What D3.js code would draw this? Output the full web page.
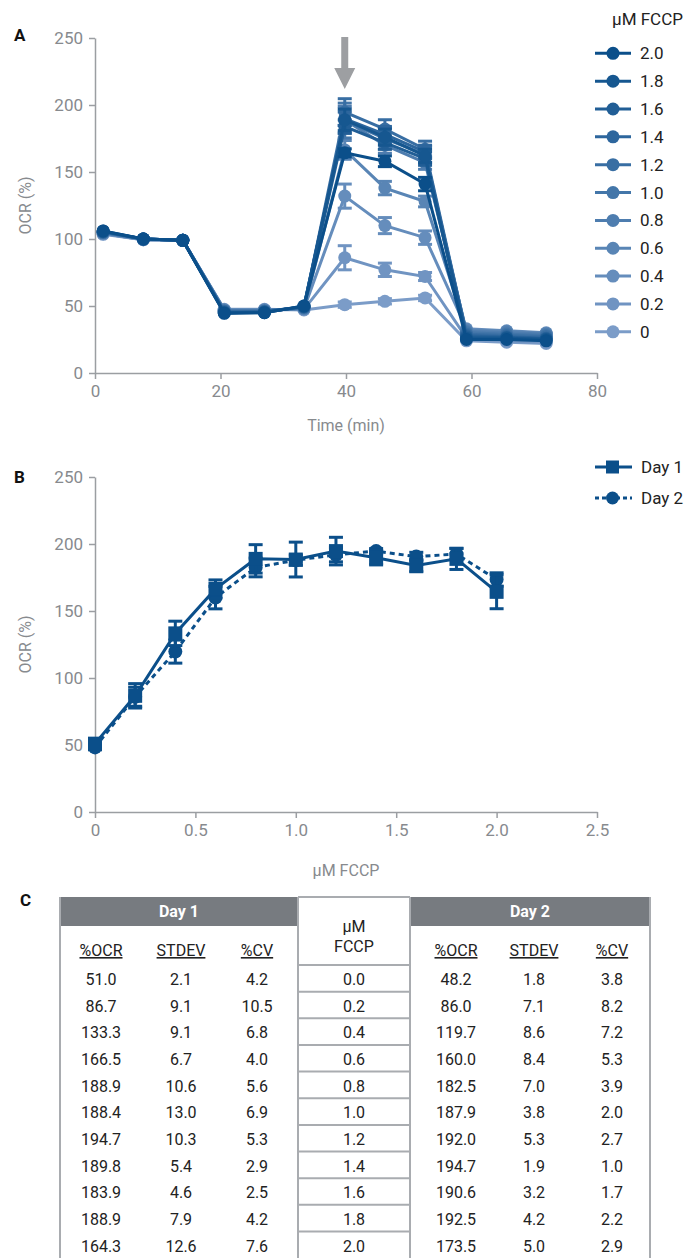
<!DOCTYPE html>
<html><head><meta charset="utf-8">
<script src="https://cdn.jsdelivr.net/npm/d3@7"></script>
<style>
html,body{margin:0;padding:0;background:#fff;}
svg{display:block;font-family:Roboto,"Noto Sans",sans-serif;}
</style></head>
<body>
<svg id="chart" width="691" height="1258"></svg>
<script>
// ---------- DATA ----------
// Panel A: time points (min)
const times = [1.3, 7.7, 14.0, 20.6, 27.0, 33.3, 39.8, 46.2, 52.6, 59.2, 65.6, 71.9];
const concLabels = ["2.0","1.8","1.6","1.4","1.2","1.0","0.8","0.6","0.4","0.2","0"];
const ocr20 = [106, 100, 99, 44.5, 45, 50, 164.3, 158, 141, 25, 25, 24];
const ocr18 = [106, 100, 99, 45, 45, 50, 188.9, 176, 162, 26, 26, 25];
const ocr16 = [105.5, 100, 99, 45, 45.5, 49.5, 183.9, 172, 160, 27, 26.5, 25.5];
const ocr14 = [105.5, 100, 99, 45.5, 45.5, 49.5, 189.8, 178, 165, 28, 27, 26];
const ocr12 = [105, 100, 99, 46, 46, 49, 194.7, 182, 167, 29, 28, 27];
const ocr10 = [105, 100, 99, 46, 46, 49, 188.4, 175, 163, 30, 29, 28];
const ocr08 = [105, 100, 99, 46.5, 46.5, 48.5, 188.9, 170, 157, 31, 30, 29];
const ocr06 = [104.5, 100, 99, 47, 47, 48, 166.5, 138, 128, 32, 31, 29.5];
const ocr04 = [104, 99.5, 99, 47, 47, 48, 132, 110, 101, 33, 31.5, 30];
const ocr02 = [104, 99.5, 99, 47, 47, 47.5, 86, 77, 72, 26, 24, 23];
const ocr00 = [103.5, 99.5, 99, 47.5, 47.5, 47, 51, 53.5, 56, 24, 23, 22];
// error (sd) per point, Panel A
const err20 = [0,0,0,0,0,0,3,4,5,0,0,0];
const err18 = [0,0,0,0,0,0,8,6,5,0,0,0];
const err16 = [0,0,0,0,0,0,5,5,5,0,0,0];
const err14 = [0,0,0,0,0,0,5,6,5,0,0,0];
const err12 = [0,0,0,0,0,0,10,7,6,0,0,0];
const err10 = [0,0,0,0,0,0,13,8,6,0,0,0];
const err08 = [0,0,0,0,0,0,10,6,5,0,0,0];
const err06 = [0,0,0,0,0,0,7,5,4,0,0,0];
const err04 = [0,0,0,0,0,0,9,6,5,0,0,0];
const err02 = [0,0,0,0,0,0,9,5,3,0,0,0];
const err00 = [0,0,0,0,0,0,2,2,2,0,0,0];
const seriesA = [ocr20, ocr18, ocr16, ocr14, ocr12, ocr10, ocr08, ocr06, ocr04, ocr02, ocr00];
const errA = [err20, err18, err16, err14, err12, err10, err08, err06, err04, err02, err00];
const xTicksA = [0, 20, 40, 60, 80];
const yTicks = [0, 50, 100, 150, 200, 250];

// Panel B / Table C
const fccp = [0.0, 0.2, 0.4, 0.6, 0.8, 1.0, 1.2, 1.4, 1.6, 1.8, 2.0];
const day1Ocr = [51.0, 86.7, 133.3, 166.5, 188.9, 188.4, 194.7, 189.8, 183.9, 188.9, 164.3];
const day1Sd  = [2.1, 9.1, 9.1, 6.7, 10.6, 13.0, 10.3, 5.4, 4.6, 7.9, 12.6];
const day1Cv  = [4.2, 10.5, 6.8, 4.0, 5.6, 6.9, 5.3, 2.9, 2.5, 4.2, 7.6];
const day2Ocr = [48.2, 86.0, 119.7, 160.0, 182.5, 187.9, 192.0, 194.7, 190.6, 192.5, 173.5];
const day2Sd  = [1.8, 7.1, 8.6, 8.4, 7.0, 3.8, 5.3, 1.9, 3.2, 4.2, 5.0];
const day2Cv  = [3.8, 8.2, 7.2, 5.3, 3.9, 2.0, 2.7, 1.0, 1.7, 2.2, 2.9];
const xTicksB = [0, 0.5, 1.0, 1.5, 2.0, 2.5];
const xTickLabelsB = ["0", "0.5", "1.0", "1.5", "2.0", "2.5"];

// ---------- STYLE ----------
const axisColor = "#9b9ea2";
const tickText = "#878a8e";
const darkBlue = "#0b4f8a";
const lightBlue = "#7b9cc8";
const colorA = i => d3.interpolateRgb(darkBlue, lightBlue)(i / (concLabels.length - 1));

const svg = d3.select("#chart");

function styleAxis(g) {
  g.select(".domain").attr("stroke", axisColor).attr("stroke-width", 1.5);
  g.selectAll(".tick line").attr("stroke", axisColor).attr("stroke-width", 1.5);
  g.selectAll(".tick text").attr("fill", tickText).style("font-size", "17px").style("font-family", "Roboto");
}

// ---------- PANEL A ----------
const xA = d3.scaleLinear().domain([0, 80]).range([95, 597]);
const yA = d3.scaleLinear().domain([0, 250]).range([373, 38]);

svg.append("g").attr("transform", `translate(0,${yA(0)})`)
  .call(d3.axisBottom(xA).tickValues(xTicksA).tickSize(6).tickPadding(6).tickSizeOuter(0))
  .call(styleAxis);
svg.append("g").attr("transform", `translate(${xA(0)},0)`)
  .call(d3.axisLeft(yA).tickValues(yTicks).tickSize(6).tickPadding(6).tickSizeOuter(0))
  .call(styleAxis);

svg.append("text").attr("x", 14).attr("y", 41).text("A")
  .attr("font-weight", "bold").attr("font-size", 17).attr("fill", "#111");
svg.append("text").attr("transform", `translate(31,${yA(125)}) rotate(-90)`)
  .attr("text-anchor", "middle").attr("font-size", 16).attr("fill", tickText).text("OCR (%)");
svg.append("text").attr("x", 346).attr("y", 431).attr("text-anchor", "middle")
  .attr("font-size", 16).attr("fill", tickText).text("Time (min)");

// arrow
const arrowX = xA(39.8);
svg.append("path")
  .attr("d", `M${arrowX-3.5},37 L${arrowX+3.5},37 L${arrowX+3.5},68 L${arrowX+10.5},68 L${arrowX},89 L${arrowX-10.5},68 L${arrowX-3.5},68 Z`)
  .attr("fill", "#9d9fa2");

const lineA = d3.line().x((d, i) => xA(times[i])).y(d => yA(d));
const order = d3.range(seriesA.length).reverse(); // lightest first
order.forEach(si => {
  const col = colorA(si);
  const g = svg.append("g");
  const vals = seriesA[si], errs = errA[si];
  vals.forEach((v, i) => {
    const e = errs[i];
    if (!e) return;
    const x = xA(times[i]);
    g.append("line").attr("x1", x).attr("x2", x).attr("y1", yA(v - e)).attr("y2", yA(v + e))
      .attr("stroke", col).attr("stroke-width", 3);
    [v - e, v + e].forEach(c => g.append("line").attr("x1", x - 7).attr("x2", x + 7)
      .attr("y1", yA(c)).attr("y2", yA(c)).attr("stroke", col).attr("stroke-width", 3));
  });
  g.append("path").attr("d", lineA(vals)).attr("fill", "none").attr("stroke", col).attr("stroke-width", 3);
  g.selectAll("circle").data(vals).join("circle")
    .attr("cx", (d, i) => xA(times[i])).attr("cy", d => yA(d)).attr("r", 6.5).attr("fill", col);
});

// legend A
svg.append("text").attr("x", 612).attr("y", 25).attr("font-size", 17).attr("fill", "#222").text("μM FCCP");
concLabels.forEach((lab, i) => {
  const y = 53.3 + i * 27.85;
  const col = colorA(i);
  svg.append("line").attr("x1", 595).attr("x2", 631).attr("y1", y).attr("y2", y)
    .attr("stroke", col).attr("stroke-width", 3);
  svg.append("circle").attr("cx", 613).attr("cy", y).attr("r", 6.5).attr("fill", col);
  svg.append("text").attr("x", 640).attr("y", y + 6).attr("font-size", 17).attr("fill", "#222").text(lab);
});

// ---------- PANEL B ----------
const xB = d3.scaleLinear().domain([0, 2.5]).range([95, 597]);
const yB = d3.scaleLinear().domain([0, 250]).range([812, 477]);

svg.append("g").attr("transform", `translate(0,${yB(0)})`)
  .call(d3.axisBottom(xB).tickValues(xTicksB).tickFormat((d, i) => xTickLabelsB[i]).tickSize(6).tickPadding(6).tickSizeOuter(0))
  .call(styleAxis);
svg.append("g").attr("transform", `translate(${xB(0)},0)`)
  .call(d3.axisLeft(yB).tickValues(yTicks).tickSize(6).tickPadding(6).tickSizeOuter(0))
  .call(styleAxis);

svg.append("text").attr("x", 14).attr("y", 483).text("B")
  .attr("font-weight", "bold").attr("font-size", 17).attr("fill", "#111");
svg.append("text").attr("transform", `translate(31,${yB(125)}) rotate(-90)`)
  .attr("text-anchor", "middle").attr("font-size", 16).attr("fill", tickText).text("OCR (%)");
svg.append("text").attr("x", 346).attr("y", 876).attr("text-anchor", "middle")
  .attr("font-size", 16).attr("fill", tickText).text("μM FCCP");

function drawErr(g, vals, sds) {
  vals.forEach((v, i) => {
    const x = xB(fccp[i]);
    g.append("line").attr("x1", x).attr("x2", x).attr("y1", yB(v - sds[i])).attr("y2", yB(v + sds[i]))
      .attr("stroke", darkBlue).attr("stroke-width", 3);
    [v - sds[i], v + sds[i]].forEach(c => g.append("line").attr("x1", x - 7).attr("x2", x + 7)
      .attr("y1", yB(c)).attr("y2", yB(c)).attr("stroke", darkBlue).attr("stroke-width", 3));
  });
}
const lineB = d3.line().x((d, i) => xB(fccp[i])).y(d => yB(d));
// Day 2 (dotted, circles)
const g2 = svg.append("g");
drawErr(g2, day2Ocr, day2Sd);
g2.append("path").attr("d", lineB(day2Ocr)).attr("fill", "none").attr("stroke", darkBlue)
  .attr("stroke-width", 3).attr("stroke-dasharray", "5,4");
g2.selectAll("circle").data(day2Ocr).join("circle")
  .attr("cx", (d, i) => xB(fccp[i])).attr("cy", d => yB(d)).attr("r", 7).attr("fill", darkBlue);
// Day 1 (solid, squares)
const g1 = svg.append("g");
drawErr(g1, day1Ocr, day1Sd);
g1.append("path").attr("d", lineB(day1Ocr)).attr("fill", "none").attr("stroke", darkBlue).attr("stroke-width", 3);
g1.selectAll("rect").data(day1Ocr).join("rect")
  .attr("x", (d, i) => xB(fccp[i]) - 7).attr("y", d => yB(d) - 7).attr("width", 14).attr("height", 14).attr("fill", darkBlue);

// legend B
[["Day 1", null, "square"], ["Day 2", "4,3", "circle"]].forEach((e, i) => {
  const y = 467 + i * 31;
  svg.append("line").attr("x1", 595).attr("x2", 632).attr("y1", y).attr("y2", y)
    .attr("stroke", darkBlue).attr("stroke-width", 3).attr("stroke-dasharray", e[1]);
  if (e[2] === "square") svg.append("rect").attr("x", 606).attr("y", y - 6.5).attr("width", 13).attr("height", 13).attr("fill", darkBlue);
  else svg.append("circle").attr("cx", 612.5).attr("cy", y).attr("r", 6.5).attr("fill", darkBlue);
  svg.append("text").attr("x", 641).attr("y", y + 6).attr("font-size", 17).attr("fill", "#222").text(e[0]);
});

// ---------- TABLE C ----------
svg.append("text").attr("x", 20).attr("y", 906).text("C")
  .attr("font-weight", "bold").attr("font-size", 17).attr("fill", "#111");
const border = "#a9acb0";
const hdrGray = "#777b80";
const tTop = 897, tBot = 1258;
const L0 = 60, L1 = 298, R0 = 410, R1 = 650;
svg.append("rect").attr("x", L0).attr("y", tTop).attr("width", L1 - L0).attr("height", 29).attr("fill", hdrGray);
svg.append("rect").attr("x", R0).attr("y", tTop).attr("width", R1 - R0).attr("height", 29).attr("fill", hdrGray);
svg.append("text").attr("x", (L0 + L1) / 2).attr("y", 917).attr("text-anchor", "middle")
  .attr("font-size", 16).attr("font-weight", "bold").attr("fill", "#fff").text("Day 1");
svg.append("text").attr("x", (R0 + R1) / 2).attr("y", 917).attr("text-anchor", "middle")
  .attr("font-size", 16).attr("font-weight", "bold").attr("fill", "#fff").text("Day 2");
[L0, L1, R0, R1].forEach(x => svg.append("line").attr("x1", x).attr("x2", x).attr("y1", tTop).attr("y2", tBot)
  .attr("stroke", border).attr("stroke-width", 2));
svg.append("line").attr("x1", L1).attr("x2", R0).attr("y1", tTop).attr("y2", tTop).attr("stroke", border).attr("stroke-width", 2);
svg.append("text").attr("x", 354).attr("y", 932).attr("text-anchor", "middle").attr("font-size", 16).attr("fill", "#222").text("μM");
svg.append("text").attr("x", 354).attr("y", 952).attr("text-anchor", "middle").attr("font-size", 16).attr("fill", "#222").text("FCCP");

const colHeads = [["%OCR", 101], ["STDEV", 181], ["%CV", 257], ["%OCR", 456], ["STDEV", 534], ["%CV", 612]];
colHeads.forEach(h => svg.append("text").attr("x", h[1]).attr("y", 956).attr("text-anchor", "middle")
  .attr("font-size", 16).attr("fill", "#222").style("text-decoration", "underline").text(h[0]));

const rowH = 26.65, sep0 = 965;
fccp.forEach((f, i) => {
  const ySep = sep0 + i * rowH;
  svg.append("line").attr("x1", L1).attr("x2", R0).attr("y1", ySep).attr("y2", ySep).attr("stroke", border).attr("stroke-width", 2);
  const ty = ySep + 20;
  const cells = [[day1Ocr[i], 101], [day1Sd[i], 181], [day1Cv[i], 257], [f, 354],
                 [day2Ocr[i], 456], [day2Sd[i], 534], [day2Cv[i], 612]];
  cells.forEach(c => svg.append("text").attr("x", c[1]).attr("y", ty).attr("text-anchor", "middle")
    .attr("font-size", 16).attr("fill", "#222").text(c[0].toFixed(1)));
});
</script>
</body></html>
